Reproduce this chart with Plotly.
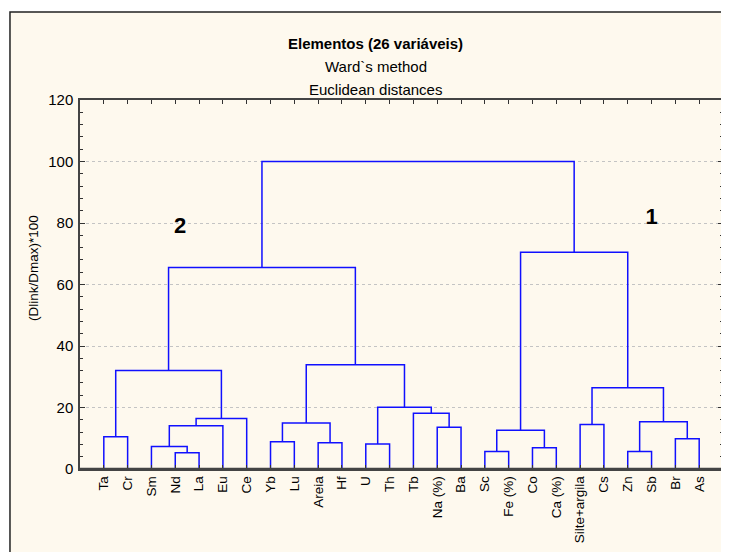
import plotly.graph_objects as go

# ---- data ----
leaf_labels = ["Ta", "Cr", "Sm", "Nd", "La", "Eu", "Ce", "Yb", "Lu", "Areia", "Hf",
               "U", "Th", "Tb", "Na (%)", "Ba", "Sc", "Fe (%)", "Co", "Ca (%)",
               "Silte+argila", "Cs", "Zn", "Sb", "Br", "As"]
# merges: (left node, right node, linkage height); nodes 0..25 are leaves, 26.. are merges
merge_left = [3, 16, 22, 18, 2, 11, 9, 7, 24, 0, 27, 14, 30, 20, 33, 28, 38, 13, 31, 39, 35, 40, 46, 36, 48]
merge_right = [4, 17, 23, 19, 26, 12, 10, 8, 25, 1, 29, 15, 5, 21, 32, 34, 6, 37, 43, 41, 42, 44, 47, 45, 49]
merge_height = [5.3, 5.7, 5.7, 6.9, 7.3, 8.1, 8.5, 8.9, 9.8, 10.5, 12.6, 13.6, 14.1, 14.5,
                15.0, 15.4, 16.4, 18.1, 20.1, 26.4, 32.0, 33.9, 65.5, 70.5, 100.0]
cluster_names = ["2", "1"]
cluster_x = [4.2, 24.0]
cluster_y = [78.5, 81.5]

y_ticks = [0, 20, 40, 60, 80, 100, 120]

# ---- build dendrogram segments ----
n = len(leaf_labels)
node_x = {i: i + 1 for i in range(n)}
node_h = {i: 0.0 for i in range(n)}
xs, ys = [], []
for k, (a, b, h) in enumerate(zip(merge_left, merge_right, merge_height)):
    xa, xb = node_x[a], node_x[b]
    xs += [xa, xa, xb, xb, None]
    ys += [node_h[a], h, h, node_h[b], None]
    node_x[n + k] = (xa + xb) / 2
    node_h[n + k] = h

fig = go.Figure()
fig.add_trace(go.Scatter(x=xs, y=ys, mode="lines",
                         line=dict(color="#1010ff", width=1.5),
                         hoverinfo="skip", showlegend=False))

fig.add_trace(go.Scatter(x=cluster_x, y=cluster_y, mode="text", text=cluster_names,
                         textfont=dict(family="Liberation Sans, Arial", size=22, color="black"),
                         texttemplate="<b>%{text}</b>",
                         hoverinfo="skip", showlegend=False))

fnt = "Liberation Sans, Arial, sans-serif"
fig.update_layout(
    width=729, height=552,
    margin=dict(l=72, r=14, t=92, b=91),
    paper_bgcolor="white",
    plot_bgcolor="white",
    font=dict(family=fnt, size=13, color="black"),
    showlegend=False,
    xaxis=dict(range=[0, 27], tickvals=list(range(1, n + 1)), ticktext=leaf_labels,
               tickangle=-90, ticks="inside", ticklen=4, tickcolor="#333",
               showgrid=False, zeroline=False, showline=True, linecolor="#444",
               linewidth=1.5, mirror="ticks", tickfont=dict(size=13.5)),
    yaxis=dict(range=[0, 120], tickvals=y_ticks, ticks="inside", ticklen=5,
               tickcolor="#333", showgrid=True, gridcolor="#c4c4c4", griddash="dot",
               gridwidth=1, zeroline=False, showline=True, linecolor="#444",
               linewidth=1.5, mirror="ticks", tickfont=dict(size=15),
               ticklabelstandoff=2,
               minor=dict(dtick=4, ticks="inside", ticklen=3, tickcolor="#333",
                          showgrid=False)),
    shapes=[dict(type="rect", xref="paper", yref="paper",
                 x0=-0.1089, x1=1.2, y0=-0.4, y1=1.2385,
                 fillcolor="#fef9ee", line=dict(color="#222", width=1.5),
                 layer="below"),
            dict(type="line", xref="paper", yref="paper", x0=0, x1=1, y0=0, y1=0,
                 line=dict(color="#444", width=2.5), layer="above")],
    annotations=[
        dict(text="<b>Elementos (26 variáveis)</b>", xref="paper", yref="paper",
             x=0.4603, y=(469 - 33) / 369, xanchor="center", showarrow=False,
             font=dict(size=15)),
        dict(text="Ward`s method", xref="paper", yref="paper",
             x=0.4603, y=(469 - 56) / 369, xanchor="center", showarrow=False,
             font=dict(size=15)),
        dict(text="Euclidean distances", xref="paper", yref="paper",
             x=0.4603, y=(469 - 79) / 369, xanchor="center", showarrow=False,
             font=dict(size=15)),
        dict(text="(Dlink/Dmax)*100", xref="paper", yref="paper",
             x=(33 - 80) / 643, y=(469 - 268) / 369, textangle=-90,
             xanchor="center", yanchor="middle", showarrow=False, font=dict(size=13.5)),
    ],
)

fig.write_html("out.html")
